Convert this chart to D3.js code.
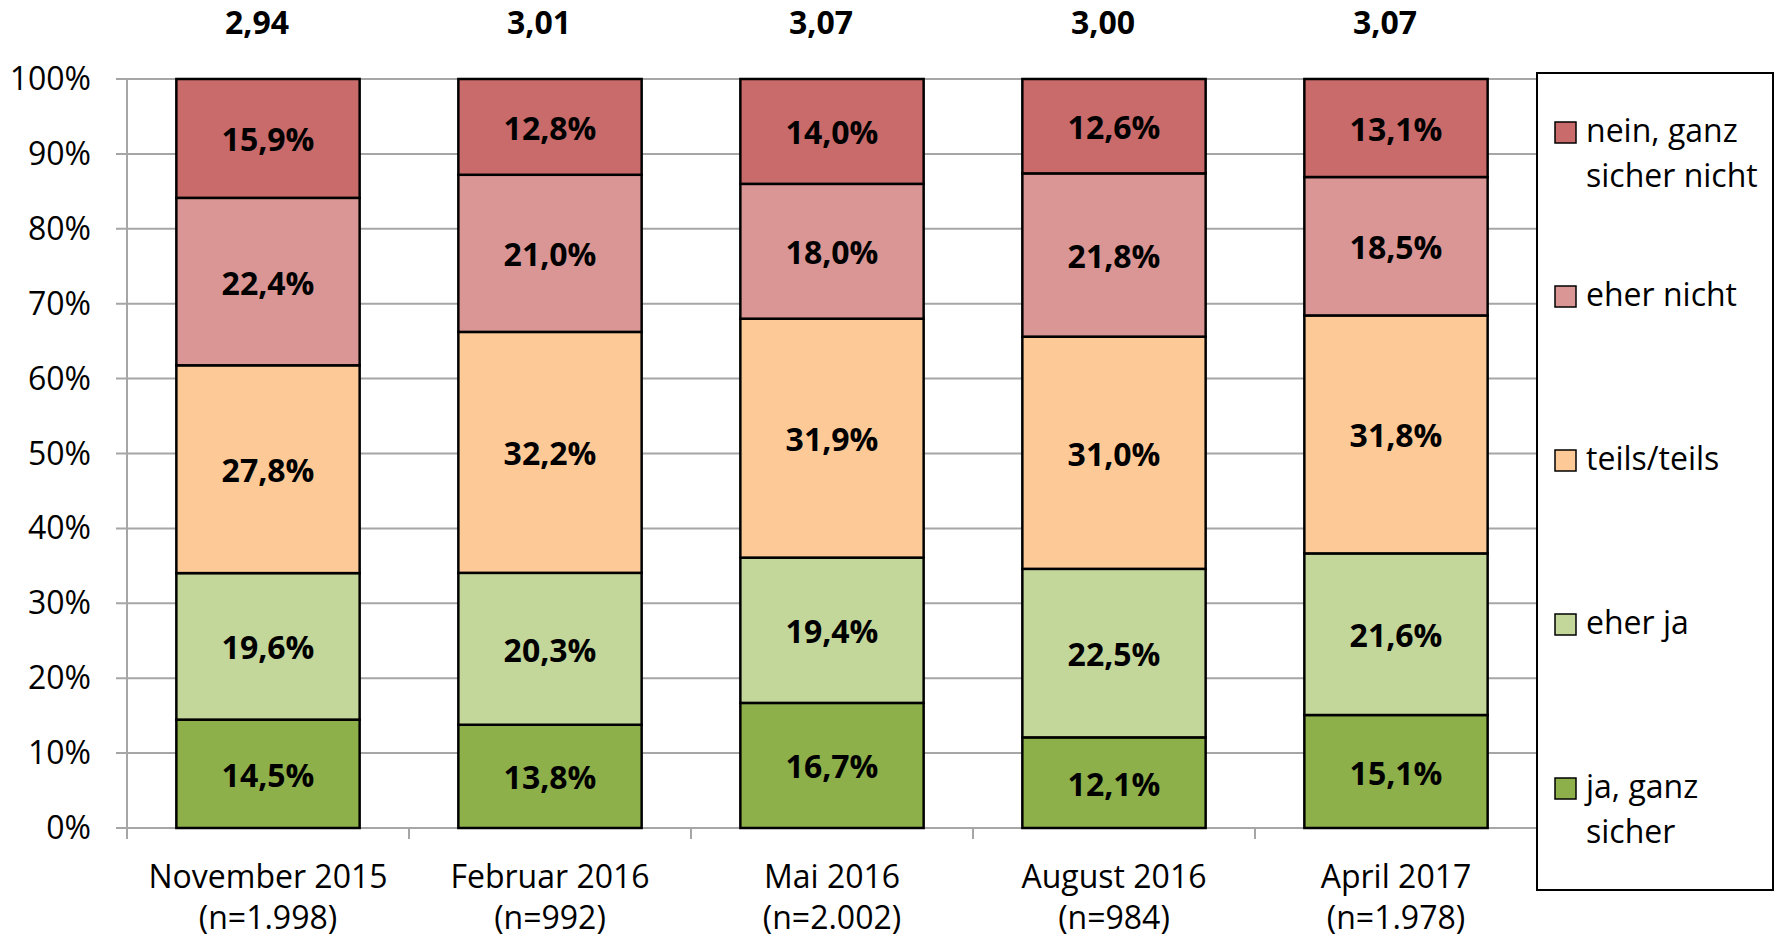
<!DOCTYPE html>
<html>
<head>
<meta charset="utf-8">
<script src="https://cdn.jsdelivr.net/npm/d3@7"></script>
<style>
  body { margin: 0; background: #fff; }
  svg { display: block; font-family: "Open Sans", sans-serif; }
</style>
</head>
<body>
<svg id="chart" width="1779" height="940"></svg>
<script>
// Daten
var months = ['November 2015', 'Februar 2016', 'Mai 2016', 'August 2016', 'April 2017']
var sampleN = ['(n=1.998)', '(n=992)', '(n=2.002)', '(n=984)', '(n=1.978)']
var means = [2.94, 3.01, 3.07, 3.00, 3.07]

// von unten nach oben
var seriesNames = ['ja, ganz sicher', 'eher ja', 'teils/teils', 'eher nicht', 'nein, ganz sicher nicht']
var jaGanzSicher = [14.5, 13.8, 16.7, 12.1, 15.1]
var eherJa = [19.6, 20.3, 19.4, 22.5, 21.6]
var teilsTeils = [27.8, 32.2, 31.9, 31.0, 31.8]
var eherNicht = [22.4, 21.0, 18.0, 21.8, 18.5]
var neinGanzSicherNicht = [15.9, 12.8, 14.0, 12.6, 13.1]
var seriesColors = ['#8eb04b', '#c4d79b', '#fdca97', '#da9694', '#c86b6a']

// Legende, von oben nach unten
var legendLines = [['nein, ganz', 'sicher nicht'], ['eher nicht'], ['teils/teils'], ['eher ja'], ['ja, ganz', 'sicher']]
var yTicks = [0, 0.1, 0.2, 0.3, 0.4, 0.5, 0.6, 0.7, 0.8, 0.9, 1]

var de = d3.formatLocale({decimal: ',', thousands: '.', grouping: [3], currency: ['', '€']})
var fmt1 = de.format('.1f')
var fmt2 = de.format('.2f')

var rows = months.map(function(m, i){
    return {
        month: m,
        'ja, ganz sicher': jaGanzSicher[i],
        'eher ja': eherJa[i],
        'teils/teils': teilsTeils[i],
        'eher nicht': eherNicht[i],
        'nein, ganz sicher nicht': neinGanzSicherNicht[i]
    }
})

var plotLeft = 127, plotTop = 79, plotRight = 1537, plotBottom = 828
var fs = 32
var svg = d3.select('#chart')

var x = d3.scaleBand().domain(months).range([plotLeft, plotRight]).paddingInner(0.35).paddingOuter(0.175)
var xTick = d3.scaleBand().domain(months).range([plotLeft, plotRight])
var y = d3.scaleLinear().domain([0, 1]).range([plotBottom, plotTop])

var stacked = d3.stack().keys(seriesNames).offset(d3.stackOffsetExpand)(rows)

// Gitterlinien
svg.append('g').selectAll('line').data(yTicks).join('line')
    .attr('x1', plotLeft - 11).attr('x2', plotRight)
    .attr('y1', function(d){ return y(d) }).attr('y2', function(d){ return y(d) })
    .attr('stroke', '#a6a6a6').attr('stroke-width', 2)

// y-Achse
svg.append('line').attr('x1', plotLeft).attr('x2', plotLeft).attr('y1', plotTop).attr('y2', plotBottom + 11)
    .attr('stroke', '#a6a6a6').attr('stroke-width', 2)
svg.append('g').selectAll('text').data(yTicks).join('text')
    .attr('x', 91).attr('y', function(d){ return y(d) + 11 })
    .attr('text-anchor', 'end').attr('font-size', fs).attr('fill', '#000')
    .text(function(d){ return Math.round(d * 100) + '%' })

// x-Achse Ticks
svg.append('g').selectAll('line').data(months).join('line')
    .attr('x1', function(d){ return xTick(d) }).attr('x2', function(d){ return xTick(d) })
    .attr('y1', plotBottom).attr('y2', plotBottom + 11)
    .attr('stroke', '#a6a6a6').attr('stroke-width', 2)

// Balken
var layer = svg.append('g').selectAll('g').data(stacked).join('g')
    .attr('fill', function(d, i){ return seriesColors[i] })
layer.selectAll('rect').data(function(d){ return d }).join('rect')
    .attr('x', function(d){ return x(d.data.month) })
    .attr('width', x.bandwidth())
    .attr('y', function(d){ return y(d[1]) })
    .attr('height', function(d){ return y(d[0]) - y(d[1]) })
    .attr('stroke', '#000').attr('stroke-width', 2.5)

// Datenbeschriftung
stacked.forEach(function(s){
    svg.append('g').selectAll('text').data(s).join('text')
        .attr('x', function(d){ return x(d.data.month) + x.bandwidth() / 2 })
        .attr('y', function(d){ return (y(d[0]) + y(d[1])) / 2 + 13 })
        .attr('text-anchor', 'middle').attr('font-size', fs).attr('font-weight', 'bold')
        .text(function(d){ return fmt1(d.data[s.key]) + '%' })
})

// Mittelwerte oben
svg.append('g').selectAll('text').data(months).join('text')
    .attr('x', function(d){ return x(d) + x.bandwidth() / 2 - 11 })
    .attr('y', 34)
    .attr('text-anchor', 'middle').attr('font-size', fs).attr('font-weight', 'bold')
    .text(function(d, i){ return fmt2(means[i]) })

// Kategorien
var cat = svg.append('g').selectAll('text').data(months).join('text')
    .attr('text-anchor', 'middle').attr('font-size', fs)
cat.append('tspan')
    .attr('x', function(d){ return x(d) + x.bandwidth() / 2 }).attr('y', 888)
    .text(function(d){ return d })
cat.append('tspan')
    .attr('x', function(d){ return x(d) + x.bandwidth() / 2 }).attr('y', 929)
    .text(function(d, i){ return sampleN[i] })

// Legende
svg.append('rect').attr('x', 1537).attr('y', 73).attr('width', 236).attr('height', 817)
    .attr('fill', '#fff').attr('stroke', '#000').attr('stroke-width', 2)
var legendColors = seriesColors.slice().reverse()
var leg = svg.append('g').selectAll('g').data(legendLines).join('g')
    .attr('transform', function(d, i){ return 'translate(1555,' + (142 + i * 164) + ')' })
leg.append('rect').attr('x', 0).attr('y', -20).attr('width', 21).attr('height', 21)
    .attr('fill', function(d, i){ return legendColors[i] })
    .attr('stroke', '#000').attr('stroke-width', 1.5)
leg.each(function(lines){
    var t = d3.select(this).append('text').attr('font-size', fs)
    lines.forEach(function(l, j){
        t.append('tspan').attr('x', 31).attr('y', j * 45).text(l)
    })
})
</script>
</body>
</html>
